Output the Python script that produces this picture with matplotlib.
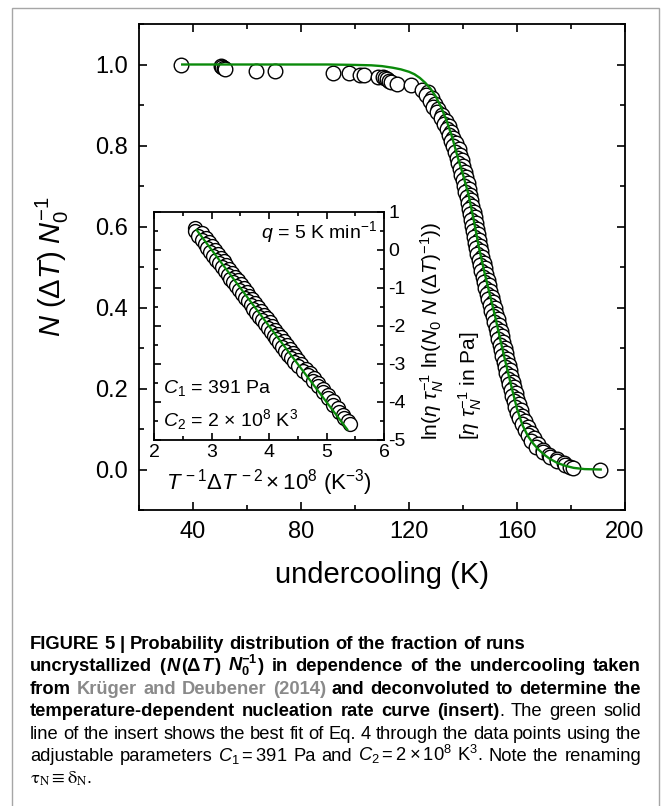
import matplotlib
matplotlib.use('Agg')
import matplotlib.pyplot as plt
from matplotlib.ticker import MultipleLocator
from matplotlib.patches import Rectangle

plt.rcParams['font.family'] = ['Liberation Sans', 'DejaVu Sans']
plt.rcParams['mathtext.fontset'] = 'custom'
plt.rcParams['mathtext.rm'] = 'Liberation Sans'
plt.rcParams['mathtext.it'] = 'Liberation Sans:italic'
plt.rcParams['mathtext.bf'] = 'Liberation Sans:bold'
plt.rcParams['mathtext.bfit'] = 'Liberation Sans:italic:bold'
plt.rcParams['axes.unicode_minus'] = False

# --- data: main panel (undercooling in K, fraction uncrystallized) ---
main_dT = [35.7, 50.3, 50.8, 51.3, 52.0, 63.3, 70.4, 91.8, 97.8, 102.0,
           103.4, 108.5, 110.4, 111.2, 112.0, 112.6, 113.5, 115.6, 120.8,
           124.7, 126.9, 126.4, 128.4, 127.7, 129.5, 128.9, 130.9, 130.4, 132.4,
           131.9, 133.8, 133.1, 134.9, 134.0, 135.7, 134.8, 136.4, 135.5, 137.4,
           136.3, 138.4, 137.2, 139.0, 137.8, 139.6, 138.3, 140.1, 138.9, 140.6,
           139.3, 141.2, 139.9, 141.7, 140.3, 142.2, 140.8, 142.6, 141.3, 143.1,
           141.7, 143.5, 142.2, 143.9, 142.6, 144.3, 143.0, 144.7, 143.3, 145.1,
           143.7, 145.5, 144.1, 145.9, 144.5, 146.3, 144.9, 146.7, 145.3, 147.2,
           145.8, 147.7, 146.3, 148.1, 146.8, 148.6, 147.3, 149.1, 147.8, 149.6,
           148.3, 150.1, 148.8, 150.6, 149.4, 151.2, 149.9, 151.7, 150.5, 152.3,
           151.0, 152.9, 151.6, 153.5, 152.2, 153.9, 152.6, 154.4, 153.1, 154.9,
           153.6, 155.4, 154.1, 155.9, 154.6, 156.4, 155.1, 156.9, 155.6, 157.4,
           156.1, 157.9, 156.6, 158.5, 157.1, 159.0, 157.7, 159.5, 158.3, 160.1,
           158.9, 160.7, 159.4, 161.3, 160.0, 161.9, 160.7, 162.9, 161.8, 163.9,
           162.8, 165.0, 163.9, 166.3, 165.3, 167.9, 167.1, 169.7, 169.7, 172.0,
           172.1, 174.7, 174.9, 177.3, 177.6, 179.6, 180.8, 190.7]
main_frac = [1.000, 0.996, 0.994, 0.992, 0.989, 0.985, 0.983, 0.980, 0.978, 0.975,
             0.973, 0.970, 0.968, 0.966, 0.963, 0.960, 0.957, 0.953, 0.949,
             0.938, 0.931, 0.924, 0.917, 0.910, 0.903, 0.896, 0.889, 0.882, 0.875,
             0.868, 0.861, 0.854, 0.847, 0.840, 0.833, 0.826, 0.819, 0.812, 0.805,
             0.798, 0.791, 0.784, 0.777, 0.770, 0.763, 0.756, 0.749, 0.742, 0.735,
             0.728, 0.721, 0.714, 0.707, 0.700, 0.693, 0.686, 0.679, 0.672, 0.665,
             0.658, 0.651, 0.644, 0.637, 0.630, 0.623, 0.616, 0.609, 0.602, 0.595,
             0.588, 0.581, 0.574, 0.567, 0.560, 0.553, 0.546, 0.539, 0.532, 0.525,
             0.518, 0.511, 0.504, 0.497, 0.490, 0.483, 0.476, 0.469, 0.462, 0.455,
             0.448, 0.441, 0.434, 0.427, 0.420, 0.413, 0.406, 0.399, 0.392, 0.385,
             0.378, 0.371, 0.364, 0.357, 0.350, 0.343, 0.336, 0.329, 0.322, 0.315,
             0.308, 0.301, 0.294, 0.287, 0.280, 0.273, 0.266, 0.259, 0.252, 0.245,
             0.238, 0.231, 0.224, 0.217, 0.210, 0.203, 0.196, 0.189, 0.182, 0.175,
             0.168, 0.161, 0.154, 0.147, 0.140, 0.133, 0.126, 0.119, 0.112, 0.105,
             0.098, 0.091, 0.084, 0.077, 0.070, 0.063, 0.056, 0.049, 0.043, 0.037,
             0.031, 0.025, 0.020, 0.015, 0.011, 0.007, 0.004, 0.000]

fit_dT = [36, 60, 90, 100, 106, 110, 114, 117, 120, 122, 124, 126, 128, 130,
          132, 134, 136, 138, 140, 142, 144, 146, 148, 150, 152, 154, 156, 158,
          160, 162, 164, 166, 168, 170, 172, 175, 178, 181, 185, 191]
fit_frac = [1.0, 1.0, 1.0, 0.999, 0.998, 0.996, 0.992, 0.988, 0.982, 0.976,
            0.967, 0.955, 0.940, 0.920, 0.893, 0.860, 0.820, 0.772, 0.728, 0.680,
            0.615, 0.545, 0.485, 0.430, 0.375, 0.315, 0.258, 0.203, 0.150, 0.110,
            0.083, 0.064, 0.049, 0.037, 0.027, 0.016, 0.009, 0.004, 0.001, 0.0]

# --- data: insert ---
ins_x = [2.71, 2.71, 2.84, 2.77, 2.90, 2.83, 2.96, 2.88, 3.01, 2.93,
         3.06, 2.98, 3.11, 3.03, 3.16, 3.08, 3.21, 3.13, 3.26, 3.18,
         3.31, 3.23, 3.36, 3.28, 3.41, 3.33, 3.46, 3.38, 3.51, 3.43,
         3.56, 3.48, 3.61, 3.53, 3.66, 3.58, 3.71, 3.63, 3.76, 3.68,
         3.81, 3.73, 3.86, 3.78, 3.91, 3.83, 3.96, 3.88, 4.01, 3.93,
         4.06, 3.98, 4.11, 4.03, 4.16, 4.08, 4.21, 4.13, 4.26, 4.18,
         4.31, 4.23, 4.36, 4.28, 4.41, 4.33, 4.46, 4.38, 4.51, 4.43,
         4.56, 4.51, 4.64, 4.59, 4.71, 4.67, 4.78, 4.76, 4.86, 4.85,
         4.94, 4.94, 5.03, 5.03, 5.11, 5.11, 5.20, 5.21, 5.29, 5.31,
         5.38, 5.41]
ins_y = [0.57, 0.50, 0.44, 0.38, 0.32, 0.26, 0.20, 0.15, 0.10, 0.05,
         0.00, -0.05, -0.10, -0.15, -0.20, -0.25, -0.30, -0.35, -0.40, -0.45,
         -0.50, -0.55, -0.60, -0.65, -0.70, -0.75, -0.80, -0.85, -0.90, -0.95,
         -1.00, -1.05, -1.10, -1.15, -1.20, -1.25, -1.30, -1.35, -1.40, -1.45,
         -1.50, -1.55, -1.60, -1.65, -1.70, -1.75, -1.80, -1.85, -1.90, -1.95,
         -2.00, -2.05, -2.10, -2.15, -2.20, -2.25, -2.30, -2.35, -2.40, -2.45,
         -2.50, -2.55, -2.60, -2.65, -2.70, -2.75, -2.80, -2.85, -2.90, -2.95,
         -3.00, -3.06, -3.12, -3.18, -3.24, -3.30, -3.37, -3.44, -3.51, -3.58,
         -3.66, -3.74, -3.82, -3.90, -3.98, -4.07, -4.16, -4.25, -4.34, -4.43,
         -4.51, -4.57]
ins_fit_x = [2.74, 4.05, 5.36]
ins_fit_y = [0.53, -2.10, -4.72]

# --- caption ---
caption_lines = [
    [("FIGURE 5 | Probability distribution of the fraction of runs", 'B')],
    [("uncrystallized (", 'B'), (r"$\mathbfit{N}$", 'B'), ("(Δ", 'B'),
     (r"$\mathbfit{T}$", 'B'), (") ", 'B'), (r"$\mathbfit{N}_{\mathbf{0}}^{\mathbf{-1}}$", 'B'),
     (") in dependence of the undercooling taken", 'B')],
    [("from ", 'B'), ("Krüger and Deubener (2014)", 'G'),
     (" and deconvoluted to determine the", 'B')],
    [("temperature-dependent nucleation rate curve (insert)", 'B'),
     (". The green solid", 'R')],
    [("line of the insert shows the best fit of Eq. 4 through the data points using the", 'R')],
    [("adjustable parameters ", 'R'), (r"$C_1=391$", 'R'), (" Pa and ", 'R'),
     (r"$C_2=2\times10^{8}$", 'R'), (r" K$^3$. Note the renaming", 'R')],
    [(r"$\mathrm{\tau_N\equiv\delta_N}$.", 'S')],
]
caption_justify = [False, True, True, True, True, True, False]
caption_y = [644, 666, 689, 711, 734, 756, 779]

W, H = 667, 806
fig = plt.figure(figsize=(W / 100, H / 100), dpi=100)
fig.patches.append(Rectangle((12 / W, -0.01), (659 - 12) / W, 1.01 - 8 / H,
                             transform=fig.transFigure, fill=False,
                             ec='#a6a6a6', lw=1.0))

# main axes
ax = fig.add_axes([139 / W, 1 - 510 / H, (625 - 139) / W, (510 - 24) / H])
ax.plot(main_dT, main_frac, 'o', ms=10.5, mfc='white', mec='black', mew=1.0)
ax.plot(fit_dT, fit_frac, '-', color='#0a8a0a', lw=1.7)
ax.set_xlim(20, 200)
ax.set_ylim(-0.1, 1.1)
ax.xaxis.set_minor_locator(MultipleLocator(20))
ax.yaxis.set_minor_locator(MultipleLocator(0.1))
ax.set_xticks([40, 80, 120, 160, 200])
ax.set_yticks([0.0, 0.2, 0.4, 0.6, 0.8, 1.0])
ax.set_yticklabels(['0.0', '0.2', '0.4', '0.6', '0.8', '1.0'])
ax.tick_params(which='both', direction='in', top=True, right=True, width=1.2,
               labelsize=17, pad=8)
ax.tick_params(which='major', length=6)
ax.tick_params(which='minor', length=3.5)
for s in ax.spines.values():
    s.set_linewidth(1.3)
ax.set_xlabel('undercooling (K)', fontsize=21)
ax.xaxis.set_label_coords(0.5, -0.105)
ax.set_ylabel(r'$N$ ($\Delta T$) $N_0^{-1}$', fontsize=21)
ax.yaxis.set_label_coords(-0.14, 0.5)

# insert
axin = fig.add_axes([154 / W, 1 - 440 / H, (384 - 154) / W, (440 - 212) / H])
axin.set_facecolor('white')
axin.plot(ins_x, ins_y, 'o', ms=10, mfc='white', mec='black', mew=1.0)
axin.plot(ins_fit_x, ins_fit_y, '-', color='#0a8a0a', lw=1.6)
axin.set_xlim(2, 6)
axin.set_ylim(-5, 1)
axin.xaxis.set_major_locator(MultipleLocator(1))
axin.xaxis.set_minor_locator(MultipleLocator(0.5))
axin.yaxis.set_major_locator(MultipleLocator(1))
axin.yaxis.set_minor_locator(MultipleLocator(0.5))
axin.tick_params(which='both', direction='in', top=True, right=True, left=True,
                 labelleft=False, labelright=True, width=1.2, labelsize=14, pad=3)
axin.tick_params(which='major', length=5)
axin.tick_params(which='minor', length=3)
for s in axin.spines.values():
    s.set_linewidth(1.3)
axin.set_xlabel(r'$T^{\,-1}\Delta T^{\,-2}\times 10^{8}$ (K$^{-3}$)', fontsize=16,
                labelpad=4)
axin.text(0.97, 0.91, r'$q$ = 5 K min$^{-1}$', transform=axin.transAxes,
          ha='right', va='center', fontsize=14)
axin.text(0.04, 0.23, r'$C_1$ = 391 Pa', transform=axin.transAxes,
          ha='left', va='center', fontsize=14)
axin.text(0.04, 0.09, r'$C_2$ = 2 $\times$ 10$^8$ K$^3$', transform=axin.transAxes,
          ha='left', va='center', fontsize=14)
fig.text(432 / W, 1 - 440 / H,
         r'ln($\eta\ \tau_{N}^{-1}$ ln($N_0\ N\ (\Delta T)^{-1}$))',
         rotation=90, rotation_mode='anchor', ha='left', va='center', fontsize=15)
fig.text(470 / W, 1 - 440 / H, r'[$\eta\ \tau_{N}^{-1}$ in Pa]',
         rotation=90, rotation_mode='anchor', ha='left', va='center', fontsize=15)

# caption with justified lines
styles = {
    'B': dict(fontweight='bold', color='black'),
    'R': dict(fontweight='normal', color='black'),
    'G': dict(fontweight='bold', color='#8a8a8a'),
    'S': dict(fontweight='normal', color='black', math_fontfamily='stix'),
}
cap_left, cap_right = 30, 641
renderer = fig.canvas.get_renderer()

# size the caption font so that the first (unjustified) line is as wide as in the figure
probe = fig.text(0, 0, caption_lines[0][0][0], fontsize=10, fontweight='bold')
cap_fs = 10 * 496 / probe.get_window_extent(renderer).width
probe.remove()


def split_words(pieces):
    words = [[]]
    for text, st in pieces:
        parts = text.split(' ')
        for i, p in enumerate(parts):
            if i > 0:
                words.append([])
            if p:
                words[-1].append((p, st))
    return [w for w in words if w]


space_px = 0.278 * cap_fs * 100 / 72
for pieces, yc, just in zip(caption_lines, caption_y, caption_justify):
    items = []
    for w in split_words(pieces):
        ts = []
        for p, st in w:
            t = fig.text(0, 0, p, fontsize=cap_fs, ha='left', va='baseline', **styles[st])
            ts.append((t, t.get_window_extent(renderer).width))
        items.append(ts)
    widths = [sum(wd for _, wd in ts) for ts in items]
    if just and len(items) > 1:
        gap = (cap_right - cap_left - sum(widths)) / (len(items) - 1)
    else:
        gap = space_px
    x = cap_left
    for ts, wsum in zip(items, widths):
        for t, wd in ts:
            t.set_position((x / W, 1 - (yc + 5) / H))
            x += wd
        x += gap

fig.savefig('out.png', dpi=100)
